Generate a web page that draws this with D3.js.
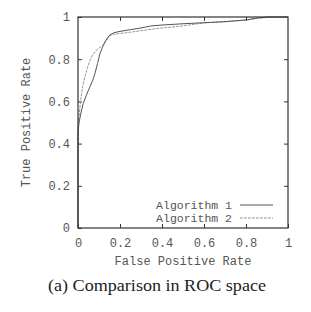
<!DOCTYPE html>
<html><head><meta charset="utf-8">
<script src="https://cdn.jsdelivr.net/npm/d3@7"></script>
<style>body{margin:0;background:#fff}svg{display:block}</style>
</head><body>
<script>
const seriesNames = ["Algorithm 1", "Algorithm 2"];
const alg1FPR = [0,0,0.005,0.015,0.025,0.04,0.057,0.07,0.081,0.093,0.105,0.118,0.129,0.14,0.152,0.17,0.2,0.25,0.3,0.35,0.4,0.5,0.6,0.7,0.8,0.85,0.9,1];
const alg1TPR = [0,0.45,0.5,0.55,0.59,0.63,0.67,0.70,0.733,0.78,0.828,0.86,0.883,0.90,0.915,0.925,0.932,0.94,0.948,0.958,0.962,0.968,0.973,0.978,0.986,0.995,1,1];
const alg2FPR = [0,0,0.005,0.013,0.022,0.033,0.045,0.057,0.07,0.089,0.105,0.12,0.135,0.152,0.17,0.2,0.25,0.3,0.35,0.4,0.5,0.6,0.7,0.8,0.85,0.9,1];
const alg2TPR = [0,0.46,0.53,0.607,0.67,0.717,0.76,0.796,0.82,0.844,0.857,0.867,0.89,0.912,0.918,0.922,0.928,0.935,0.942,0.948,0.958,0.972,0.978,0.985,0.992,0.998,1];
const tickValues = [0,0.2,0.4,0.6,0.8,1];
const tickLabels = ["0","0.2","0.4","0.6","0.8","1"];
const xTitle = "False Positive Rate";
const yTitle = "True Positive Rate";
const caption = "(a) Comparison in ROC space";

const W=311,H=312;
const L=78,R=288,T=17,B=228;
const svg=d3.select("body").append("svg").attr("width",W).attr("height",H);
const x=d3.scaleLinear().domain([0,1]).range([L,R]);
const y=d3.scaleLinear().domain([0,1]).range([B,T]);
const mono="'Liberation Mono','DejaVu Sans Mono',monospace";
const axisCol="#333";
const txtCol="#555";

function styleAxis(g,hideText){
  g.select(".domain").remove();
  g.selectAll(".tick line").attr("stroke",axisCol).attr("stroke-width",1);
  g.selectAll(".tick text").attr("font-family",mono).attr("font-size","12px").attr("fill",txtCol);
  if(hideText) g.selectAll(".tick text").remove();
}
const fmt=(d,i)=>tickLabels[i];
svg.append("g").attr("transform",`translate(0,${B})`)
  .call(d3.axisBottom(x).tickValues(tickValues).tickFormat(fmt).tickSizeInner(-4).tickSizeOuter(0).tickPadding(10))
  .call(g=>styleAxis(g,false));
svg.append("g").attr("transform",`translate(0,${T})`)
  .call(d3.axisTop(x).tickValues(tickValues.slice(1,-1)).tickSizeInner(-4).tickSizeOuter(0))
  .call(g=>styleAxis(g,true));
svg.append("g").attr("transform",`translate(${L},0)`)
  .call(d3.axisLeft(y).tickValues(tickValues).tickFormat(fmt).tickSizeInner(-4).tickSizeOuter(0).tickPadding(8))
  .call(g=>styleAxis(g,false));
svg.append("g").attr("transform",`translate(${R},0)`)
  .call(d3.axisRight(y).tickValues(tickValues.slice(1,-1)).tickSizeInner(-4).tickSizeOuter(0))
  .call(g=>styleAxis(g,true));

const line=d3.line().x(d=>x(d[0])).y(d=>y(d[1]));
const d1=alg1FPR.map((v,i)=>[v,alg1TPR[i]]);
const d2=alg2FPR.map((v,i)=>[v,alg2TPR[i]]);
svg.append("path").attr("d",line(d2)).attr("fill","none").attr("stroke","#999").attr("stroke-width",1).attr("stroke-dasharray","3,1");
svg.append("path").attr("d",line(d1)).attr("fill","none").attr("stroke","#555").attr("stroke-width",1);

svg.append("rect").attr("x",L).attr("y",T).attr("width",R-L).attr("height",B-T)
  .attr("fill","none").attr("stroke",axisCol).attr("stroke-width",1.2);

// legend
const leg=[{name:seriesNames[0],col:"#555",dash:null,y:205},{name:seriesNames[1],col:"#999",dash:"3,1",y:218}];
leg.forEach(l=>{
  svg.append("text").attr("x",232).attr("y",l.y+4).attr("text-anchor","end")
    .attr("font-family",mono).attr("font-size","11.5px").attr("fill",txtCol).text(l.name);
  svg.append("line").attr("x1",240).attr("x2",273).attr("y1",l.y).attr("y2",l.y)
    .attr("stroke",l.col).attr("stroke-width",1).attr("stroke-dasharray",l.dash);
});

svg.append("text").attr("x",(L+R)/2).attr("y",265).attr("text-anchor","middle")
  .attr("font-family",mono).attr("font-size","12px").attr("fill",txtCol).text(xTitle);
svg.append("text").attr("transform",`translate(30,${(T+B)/2}) rotate(-90)`).attr("text-anchor","middle")
  .attr("font-family",mono).attr("font-size","12px").attr("fill",txtCol).text(yTitle);
svg.append("text").attr("x",157).attr("y",291).attr("text-anchor","middle")
  .attr("font-family","'Liberation Serif','DejaVu Serif',serif").attr("font-size","16px")
  .attr("textLength",218).attr("lengthAdjust","spacingAndGlyphs").attr("fill","#222").text(caption);
</script>
</body></html>
